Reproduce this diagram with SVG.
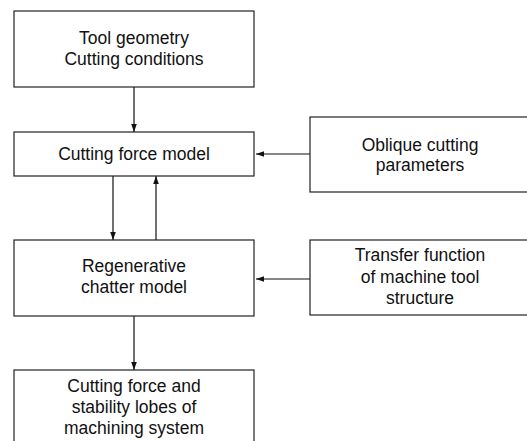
<svg xmlns="http://www.w3.org/2000/svg" width="527" height="441" viewBox="0 0 527 441">
<style>
.box{fill:#fff;stroke:#222;stroke-width:1.2}
.t{font-family:"Liberation Sans",Arial,sans-serif;font-size:17.5px;fill:#111;text-anchor:middle}
.c{stroke:#111;stroke-width:1.2;fill:none;marker-end:url(#ah)}
</style>
<defs>
<marker id="ah" viewBox="0 0 10 10" refX="10" refY="5" markerWidth="8" markerHeight="8" markerUnits="userSpaceOnUse" orient="auto">
<path d="M0,1.5 L10,5 L0,8.5 Z" fill="#111"/>
</marker>
</defs>
<rect width="527" height="441" fill="#fff"/>
<g id="connectors">
<line class="c" x1="134" y1="87" x2="134" y2="132"/>
<line class="c" x1="310" y1="154" x2="256" y2="154"/>
<line class="c" x1="113" y1="176" x2="113" y2="240"/>
<line class="c" x1="156" y1="240" x2="156" y2="176"/>
<line class="c" x1="310" y1="279" x2="256" y2="279"/>
<line class="c" x1="134" y1="316" x2="134" y2="370"/>
</g>
<g id="n1"><rect class="box" x="14" y="11" width="240" height="76"/>
<text class="t" x="134" y="44">Tool geometry</text><text class="t" x="134" y="64.5">Cutting conditions</text></g>
<g id="n2"><rect class="box" x="14" y="132" width="240" height="44"/>
<text class="t" x="134" y="160">Cutting force model</text></g>
<g id="n3"><rect class="box" x="310" y="117" width="230" height="75"/>
<text class="t" x="420" y="150.5">Oblique cutting</text><text class="t" x="420" y="171">parameters</text></g>
<g id="n4"><rect class="box" x="14" y="240" width="240" height="76"/>
<text class="t" x="134" y="272">Regenerative</text><text class="t" x="134" y="293">chatter model</text></g>
<g id="n5"><rect class="box" x="310" y="240" width="230" height="75"/>
<text class="t" x="420" y="261">Transfer function</text><text class="t" x="420" y="282.5">of machine tool</text><text class="t" x="420" y="304">structure</text></g>
<g id="n6"><rect class="box" x="14" y="370" width="240" height="80"/>
<text class="t" x="134" y="392">Cutting force and</text><text class="t" x="134" y="413">stability lobes of</text><text class="t" x="134" y="434">machining system</text></g>
</svg>
